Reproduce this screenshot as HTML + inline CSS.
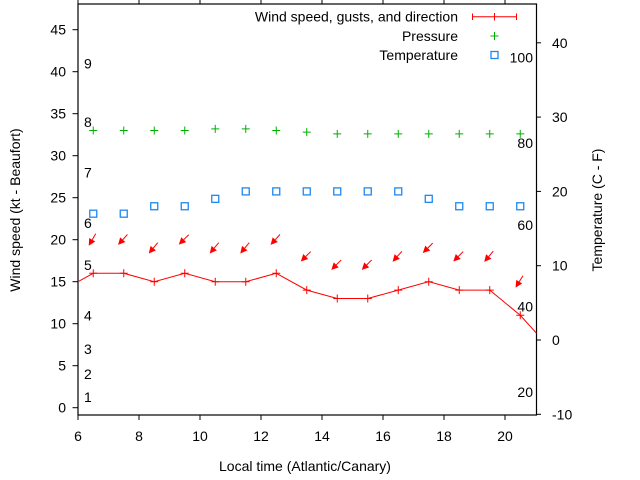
<!DOCTYPE html>
<html><head><meta charset="utf-8"><style>
html,body{margin:0;padding:0;background:#fff}
svg{display:block;font-family:"Liberation Sans",sans-serif}
text{fill:#000;font-size:14px}
</style></head><body>
<svg id="chart" width="640" height="480" viewBox="0 0 640 480" xmlns="http://www.w3.org/2000/svg">
<defs><clipPath id="clip"><rect x="78" y="4" width="458.5" height="411"/></clipPath></defs>
<g id="axes"></g>
<g id="marks" clip-path="url(#clip)"></g>
<g id="legend"></g>
</svg>
<script>
const hours = [5.5,6.5,7.5,8.5,9.5,10.5,11.5,12.5,13.5,14.5,15.5,16.5,17.5,18.5,19.5,20.5,21.5];
const windSpeed = [14,16,16,15,16,15,15,16,14,13,13,14,15,14,14,11,7];
const obsHours = [6.5,7.5,8.5,9.5,10.5,11.5,12.5,13.5,14.5,15.5,16.5,17.5,18.5,19.5,20.5];
const gusts = [20,20,19,20,19,19,20,18,17,17,18,19,18,18,15];
const windDir = [30,42,40,45,40,40,42,45,45,45,42,45,45,40,32];
const pressure = [33,33,33,33,33.2,33.2,33,32.8,32.6,32.6,32.6,32.6,32.6,32.6,32.6];
const temperature = [17,17,18,18,19,20,20,20,20,20,20,19,18,18,18];
const xTicks = [6,8,10,12,14,16,18,20];
const yTicks = [0,5,10,15,20,25,30,35,40,45];
const y2Ticks = [-10,0,10,20,30,40];
const beaufort = [[1,1.25],[2,4],[3,7],[4,11],[5,17],[6,22],[7,28],[8,34],[9,41]];
const fahrenheit = [[20,-7],[40,4.5],[60,15.5],[80,26.5],[100,38]];

const NS='http://www.w3.org/2000/svg';
const X = h => 78 + (h-6)*30.5;
const Y = v => 407.7 - v*8.4;
const Y2 = t => 340 - t*7.43;
function mk(tag, attrs, parent, txt){const e=document.createElementNS(NS,tag);for(const k in attrs)e.setAttribute(k,attrs[k]);if(txt!==undefined)e.textContent=txt;parent.appendChild(e);return e;}
const axes=document.getElementById('axes'), marks=document.getElementById('marks'), legend=document.getElementById('legend');

let e=mk('rect',{x:78,y:4,width:458.5,height:411,fill:'none',stroke:'#000','stroke-width':1.2},axes);


xTicks.forEach(t=>{
  const x=X(t);
  let l=mk('line',{x1:x,y1:415,x2:x,y2:420,stroke:'#000'},axes);
  
  
  let l2=mk('line',{x1:x,y1:4,x2:x,y2:0,stroke:'#000'},axes);
  
  
  let tx=mk('text',{x:x,y:441,'text-anchor':'middle'},axes,String(t));
  
  
});
yTicks.forEach(t=>{
  const y=Y(t);
  let l=mk('line',{x1:72.5,y1:y,x2:78,y2:y,stroke:'#000'},axes);
  
  
  let tx=mk('text',{x:66,y:y+5,'text-anchor':'end'},axes,String(t));
  
  
});
y2Ticks.forEach(t=>{
  const y=Y2(t);
  let l=mk('line',{x1:536.5,y1:y,x2:541,y2:y,stroke:'#000'},axes);
  
  
  let tx=mk('text',{x:552,y:y+5,'text-anchor':'start'},axes,String(t));
  
  
});
beaufort.forEach(b=>{
  let tx=mk('text',{x:84,y:Y(b[1])+5},axes,String(b[0]));
  
  
});
fahrenheit.forEach(f=>{
  let tx=mk('text',{x:533,y:Y2(f[1])+5,'text-anchor':'end'},axes,String(f[0]));
  
  
});
let t1=mk('text',{x:0,y:0,'text-anchor':'middle',transform:'translate(20,210) rotate(-90)'},axes,'Wind speed (kt - Beaufort)');


let t2=mk('text',{x:0,y:0,'text-anchor':'middle',transform:'translate(602,210) rotate(-90)'},axes,'Temperature (C - F)');


let t3=mk('text',{x:305,y:471,'text-anchor':'middle'},axes,'Local time (Atlantic/Canary)');



// wind line
const pts=hours.map((h,i)=>X(h)+','+Y(windSpeed[i])).join(' ');
let pl=mk('polyline',{points:pts,fill:'none',stroke:'#f00','stroke-width':1},marks);


hours.forEach((h,i)=>{
  const x=X(h),y=Y(windSpeed[i]);
  let p=mk('path',{d:`M${x-4} ${y}H${x+4}M${x} ${y-4}V${y+4}`,stroke:'#f00','stroke-width':1},marks);
  
  
});
// gust arrows
obsHours.forEach((h,i)=>{
  const cx=X(h)-1,cy=Y(gusts[i]);
  const a=windDir[i]*Math.PI/180, L=14;
  const dx=-Math.sin(a), dy=Math.cos(a);
  const tx=cx+dx*L/2, ty=cy+dy*L/2, sx=cx-dx*L/2, sy=cy-dy*L/2;
  const px=-dy, py=dx, hl=7, hw=3.5;
  const bx=tx-dx*hl, by=ty-dy*hl;
  let g=mk('g',{},marks);
  
  
  mk('line',{x1:sx,y1:sy,x2:bx,y2:by,stroke:'#f00','stroke-width':1},g);
  mk('polygon',{points:`${tx},${ty} ${bx+px*hw},${by+py*hw} ${bx-px*hw},${by-py*hw}`,fill:'#f00'},g);
});
// pressure
obsHours.forEach((h,i)=>{
  const x=X(h),y=Y(pressure[i]);
  let p=mk('path',{d:`M${x-4} ${y}H${x+4}M${x} ${y-4}V${y+4}`,stroke:'#00b000','stroke-width':1},marks);
  
  
});
// temperature
obsHours.forEach((h,i)=>{
  const x=X(h),y=Y2(temperature[i]);
  let r=mk('rect',{x:x-3.5,y:y-3.5,width:7,height:7,fill:'none',stroke:'#1e88f0','stroke-width':1.3},marks);
  
  
});
// legend
const leg=[['Wind speed, gusts, and direction',16.7],['Pressure',36],['Temperature',55]];
leg.forEach((l,i)=>{
  let tx=mk('text',{x:458,y:l[1]+5,'text-anchor':'end'},legend,l[0]);
  
  
});
let s1=mk('path',{d:'M472.5 16.7H516.5M472.5 13.5V20M516.5 13.5V20M494.5 13V20.5',stroke:'#f00','stroke-width':1,fill:'none'},legend);


let s2=mk('path',{d:'M490.5 36H498.5M494.5 32V40',stroke:'#00b000','stroke-width':1},legend);


let s3=mk('rect',{x:491,y:51.5,width:7,height:7,fill:'none',stroke:'#1e88f0','stroke-width':1.3},legend);


</script>
</body></html>
